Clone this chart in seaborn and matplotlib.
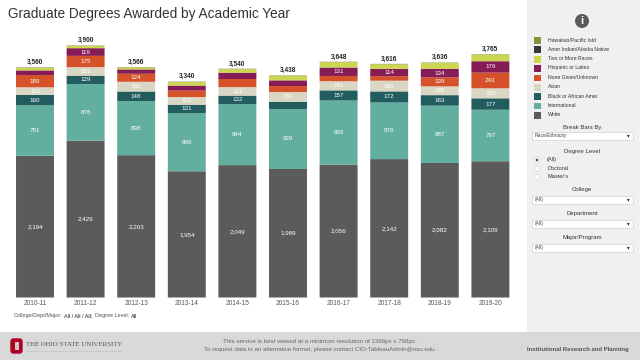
import matplotlib
matplotlib.use('Agg')
import matplotlib.pyplot as plt
import numpy as np
import seaborn as sns
from matplotlib.patches import Circle, FancyBboxPatch, Rectangle

years = ['2010-11', '2011-12', '2012-13', '2013-14', '2014-15',
         '2015-16', '2016-17', '2017-18', '2018-19', '2019-20']
totals = [3560, 3900, 3566, 3340, 3540, 3438, 3648, 3616, 3636, 3765]

white = [2194, 2429, 2203, 1954, 2049, 1989, 2056, 2142, 2082, 2109]
international = [781, 876, 838, 899, 944, 929, 993, 876, 887, 797]
black = [160, 129, 148, 131, 132, 112, 157, 172, 163, 177]
asian = [119, 131, 150, 118, 131, 150, 141, 166, 136, 155]
none_given = [189, 175, 124, 100, 126, 93, 82, 70, 139, 243]
hispanic = [72, 119, 68, 78, 98, 88, 131, 114, 134, 176]
two_more = [39, 37, 31, 56, 56, 73, 84, 72, 91, 104]
amer_indian = [4, 3, 3, 3, 3, 3, 3, 3, 3, 3]
hawaiian = [2, 1, 1, 1, 1, 1, 1, 1, 1, 1]

series_names = ['White', 'International', 'Black or African Amer', 'Asian',
                'None Given/Unknown', 'Hispanic or Latino', 'Two or More Races',
                'Amer Indian/Alaska Native', 'Hawaiian/Pacific Isld']
series_values = [white, international, black, asian, none_given, hispanic,
                 two_more, amer_indian, hawaiian]
series_colors = ['#5B5B5B', '#62AFA0', '#225C5E', '#D9D7C4', '#D5522B',
                 '#851C55', '#CDD651', '#3A3535', '#8A8F3C']

# segments too tight for a label in the original
min_label = 114
hidden_labels = [('None Given/Unknown', '2014-15')]

sns.set_theme(style='white')
plt.rcParams['font.family'] = ['Liberation Sans', 'DejaVu Sans']

fig = plt.figure(figsize=(6.4, 3.6), dpi=100, facecolor='white')

# page furniture, in pixel coordinates
ui = fig.add_axes([0, 0, 1, 1], zorder=0)
ui.set_xlim(0, 640)
ui.set_ylim(360, 0)
ui.axis('off')
ui.add_patch(Rectangle((527, 0), 113, 332, color='#F0F0F0', lw=0))
ui.add_patch(Rectangle((0, 332), 640, 28, color='#D9D9D9', lw=0))

ui.text(8, 14, 'Graduate Degrees Awarded by Academic Year', fontsize=9.8,
        color='#333333', va='center')

ui.add_patch(Circle((582, 21), 7, color='#5A5A5A', lw=0))
ui.text(582, 21, 'i', color='white', fontsize=8, fontweight='bold', ha='center', va='center')

legend_y = [40, 49.3, 59, 68, 77.7, 87, 96.3, 105.7, 115]
for y, name, col in zip(legend_y, series_names[::-1], series_colors[::-1]):
    ui.add_patch(Rectangle((534, y - 3), 6.5, 6.5, color=col, lw=0))
    ui.text(547.5, y, name, fontsize=3.7, color='#333333', va='center')


def dropdown(y0, y1, label):
    ui.add_patch(Rectangle((532, y0), 101, y1 - y0, fc='white', ec='#C8C8C8', lw=0.4))
    ui.text(535, (y0 + y1) / 2, label, fontsize=3.6, color='#444444', va='center')
    ui.text(628, (y0 + y1) / 2, '\u25be', fontsize=4, color='#333333', va='center', ha='center',
            family='DejaVu Sans')


for y, label in [(127, 'Break Bars By'), (151, 'Degree Level'), (190, 'College'),
                 (214, 'Department'), (238, 'Major/Program')]:
    ui.text(582, y, label, fontsize=4.3, color='#333333', ha='center', va='center')
dropdown(132, 140, 'Race/Ethnicity')
dropdown(196, 203.5, '(All)')
dropdown(220, 228, '(All)')
dropdown(244, 252, '(All)')
for y, label in [(160, '(All)'), (168.5, 'Doctoral'), (177, "Master's")]:
    ui.add_patch(Circle((537, y), 2.6, fc='white', ec='#CCCCCC', lw=0.4))
    ui.text(547, y, label, fontsize=4.1, color='#333333', va='center')
ui.add_patch(Circle((537, 160), 1.2, color='#444444', lw=0))

parts = [(14, 'College/Dept/Major:', '#555555'), (64, 'All / All / All;', '#222222'),
         (95, 'Degree Level:', '#555555'), (131, 'All', '#222222')]
for x, label, col in parts:
    ui.text(x, 316, label, fontsize=4.0, color=col, va='center')

# block O
ui.add_patch(FancyBboxPatch((12.5, 340.5), 8, 11, boxstyle='round,pad=2.2,rounding_size=3.5',
                            fc='#B00020', ec='none', mutation_aspect=1))
ui.add_patch(Rectangle((14.5, 342), 4, 8, fc='#C9C9C9', lw=0))
ui.text(26, 345, 'THE OHIO STATE UNIVERSITY', family='Liberation Serif', fontsize=4.95,
        color='#555555', va='center')
ui.plot([26, 122], [350.5, 350.5], color='#BBBBBB', lw=0.4)
ui.text(320, 342, 'This service is best viewed at a minimum resolution of 1366px x 768px.',
        fontsize=4.4, color='#666666', ha='center', va='center')
ui.text(320, 350, 'To request data in an alternative format, please contact CIO-TableauAdmin@osu.edu.',
        fontsize=4.4, color='#666666', ha='center', va='center')
ui.text(527, 349.5, 'Institutional Research and Planning', fontsize=4.35, fontweight='bold',
        color='#555555', va='center')

# stacked bars
ax = fig.add_axes([9.7 / 640, (360 - 297.5) / 360, 506 / 640, 262.5 / 360], zorder=1)
ax.patch.set_alpha(0)
bottom = np.zeros(len(years))
for name, values, col in zip(series_names, series_values, series_colors):
    sns.barplot(x=years, y=values, bottom=bottom, color=col, saturation=1, width=0.75,
                linewidth=0, ax=ax)
    for bar in ax.containers[-1]:
        bar.set_snap(False)  # otherwise the sliver series get a full pixel
    labels = [f'{v:,}' if v >= min_label and (name, yr) not in hidden_labels else ''
              for v, yr in zip(values, years)]
    ax.bar_label(ax.containers[-1], labels=labels, label_type='center', fontsize=4.5, color='white')
    bottom = bottom + np.array(values)

ax.bar_label(ax.containers[-1], labels=[f'{t:,}' for t in totals], padding=1,
             fontsize=4.7, fontweight='bold', color='#222222')
ax.set_xlim(-0.5, 9.5)
ax.set_ylim(0, 4063)
sns.despine(ax=ax, left=True, bottom=True)
ax.set_yticks([])
ax.set_xlabel('')
ax.set_ylabel('')
ax.tick_params(axis='x', length=0, pad=2, labelsize=4.7, labelcolor='#555555')

fig.savefig('out.png', dpi=100)
